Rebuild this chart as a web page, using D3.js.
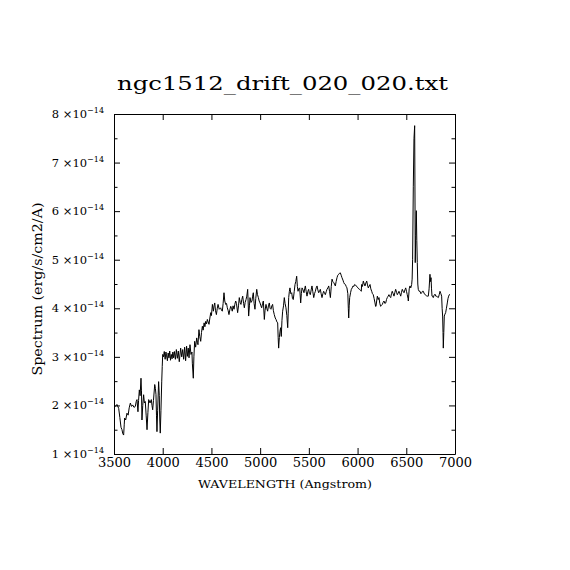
<!DOCTYPE html>
<html>
<head>
<meta charset="utf-8">
<script src="https://cdn.jsdelivr.net/npm/d3@7/dist/d3.min.js"></script>
<style>
  html, body { margin: 0; padding: 0; background: #fff; }
  svg { display: block; }
  text { font-family: "DejaVu Serif", "Liberation Serif", serif; fill: #000; }
</style>
</head>
<body>
<script>
// ---- data (flux in units of 1e-14 erg/s/cm2/A) ----
const titleText = "ngc1512_drift_020_020.txt";
const xLabelText = "WAVELENGTH (Angstrom)";
const yLabelText = "Spectrum (erg/s/cm2/A)";
const xTicks = [3500, 4000, 4500, 5000, 5500, 6000, 6500, 7000];
const yTicks = [1, 2, 3, 4, 5, 6, 7, 8];
const yMinorTicks = [1.5, 2.5, 3.5, 4.5, 5.5, 6.5, 7.5];
const yExponent = "\u221214";

const spectrumPoints = [
[3503,2.00],[3514,1.98],[3530,2.02],[3548,1.94],[3560,1.75],[3572,1.55],[3582,1.50],[3590,1.42],[3599,1.39],[3605,1.60],[3609,1.74],[3620,1.70],[3633,1.84],[3645,1.80],[3656,1.95],[3668,2.05],[3680,1.98],[3692,2.01],[3705,1.96],[3719,1.98],[3728,2.08],[3736,2.12],[3746,1.87],[3752,2.10],[3760,2.32],[3768,2.20],[3777,2.56],[3782,2.30],[3787,1.70],[3795,2.00],[3804,2.22],[3812,2.05],[3821,2.08],[3830,1.80],[3839,1.50],[3848,1.85],[3856,2.12],[3870,2.05],[3883,2.12],[3890,2.00],[3897,1.91],[3905,2.10],[3918,2.43],[3925,2.35],[3931,2.22],[3936,1.80],[3941,1.46],[3948,1.90],[3958,2.49],[3965,2.20],[3970,1.70],[3975,1.43],[3982,1.90],[3990,2.50],[3995,2.80],[4000,3.05],[4008,3.00],[4016,3.11],
[4025,2.95],[4033,3.10],[4040,3.02],[4048,2.92],[4056,3.08],[4064,2.98],[4072,3.12],[4080,2.93],[4088,3.05],[4096,2.96],[4104,3.10],[4112,2.98],[4120,3.11],[4130,2.95],[4140,3.15],[4150,2.97],[4160,3.12],[4170,2.90],[4184,3.18],[4195,3.00],[4205,3.15],[4215,2.95],[4225,3.20],[4235,2.92],[4245,3.22],[4253,3.01],[4262,3.18],[4270,2.98],[4280,3.25],[4290,3.05],[4300,3.10],[4304,2.87],[4314,2.56],[4320,3.00],[4328,3.32],[4338,3.20],[4349,3.39],[4356,3.30],[4362,3.25],[4372,3.56],[4380,3.42],[4390,3.32],[4398,3.50],[4407,3.63],[4415,3.55],[4425,3.70],[4433,3.62],[4441,3.73],[4450,3.68],[4458,3.77],[4466,3.72],[4475,3.67],[4484,3.80],[4493,3.91],[4500,3.85],[4510,4.08],[4520,3.94],[4527,4.05],[4534,4.11],[4542,3.95],[4551,3.87],[4560,4.00],[4568,4.08],[4580,3.98],[4595,4.01],[4603,3.96],[4612,3.94],[4620,4.10],[4629,4.32],[4637,4.15],[4646,4.08],[4655,4.10],[4663,4.01],[4672,3.95],[4680,3.87],[4690,3.98],[4698,4.04],[4706,4.00],[4714,3.94],[4722,4.05],[4732,3.98],[4740,4.08],[4749,4.15],[4757,4.10],
[4769,3.91],[4778,4.05],[4786,4.22],[4795,4.12],[4803,4.08],[4812,4.18],[4821,4.25],[4830,4.10],[4838,4.01],[4846,4.12],[4855,4.18],[4863,4.25],[4872,4.39],[4882,3.84],[4890,4.05],[4896,4.22],[4906,4.12],[4916,4.15],[4923,4.25],[4930,4.32],[4938,4.10],[4947,3.98],[4955,4.20],[4965,4.39],[4973,4.28],[4982,4.22],[4990,4.15],[4999,4.11],[5008,4.05],[5016,4.01],[5025,4.10],[5033,4.15],[5043,3.77],[5050,3.95],[5060,4.08],[5068,4.00],[5077,3.94],[5085,4.05],[5094,4.11],[5102,4.00],[5111,3.98],[5120,4.05],[5128,4.08],[5136,3.95],[5145,3.87],[5155,3.80],[5163,3.77],[5172,3.72],[5180,3.70],[5185,3.40],[5190,3.18],[5197,3.40],[5204,3.53],[5210,3.60],[5217,3.42],[5224,3.75],[5231,3.94],[5240,4.05],[5248,4.22],[5256,4.10],[5265,4.01],[5274,3.85],[5283,3.60],[5288,3.90],[5293,4.22],[5300,4.35],[5306,4.42],[5315,4.30],[5324,4.32],[5332,4.20],[5340,4.18],[5350,4.35],[5358,4.49],[5366,4.55],[5375,4.66],[5382,4.45],[5389,4.35],[5396,4.40],
[5406,4.42],[5416,4.11],[5423,4.30],[5430,4.42],[5440,4.38],[5450,4.32],[5457,4.40],[5464,4.46],[5472,4.35],[5481,4.25],[5490,4.35],[5498,4.39],[5506,4.30],[5515,4.28],[5524,4.38],[5532,4.46],[5540,4.35],[5550,4.22],[5558,4.30],[5567,4.35],[5575,4.42],[5584,4.46],[5592,4.38],[5601,4.32],[5610,4.36],[5618,4.39],[5626,4.30],[5635,4.22],[5644,4.30],[5652,4.35],[5660,4.32],[5669,4.28],[5678,4.34],[5686,4.39],[5695,4.42],[5704,4.46],[5712,4.35],[5721,4.22],[5730,4.45],[5738,4.60],[5746,4.55],[5755,4.53],[5763,4.50],[5772,4.46],[5780,4.55],[5789,4.63],[5797,4.68],[5806,4.70],[5814,4.72],[5823,4.73],[5832,4.68],[5840,4.63],[5850,4.58],[5858,4.53],[5866,4.50],[5875,4.49],[5883,4.45],[5891,4.42],[5900,4.30],[5905,4.00],[5909,3.80],[5914,4.05],[5919,4.22],[5928,4.32],[5936,4.39],[5945,4.42],[5953,4.46],[5962,4.45],[5970,4.49],[5978,4.48],[5987,4.46],[5995,4.44],[6004,4.42],[6012,4.40],[6021,4.39],[6030,4.37],[6038,4.35],
[6042,4.49],[6050,4.45],[6059,4.56],[6068,4.50],[6076,4.46],[6085,4.52],[6094,4.56],[6102,4.48],[6110,4.42],[6120,4.46],[6128,4.49],[6136,4.40],[6145,4.35],[6153,4.30],[6161,4.28],[6170,4.20],[6179,4.11],[6185,4.04],[6189,4.04],[6196,4.15],[6203,4.25],[6212,4.18],[6220,4.22],[6228,4.10],[6237,4.04],[6245,4.06],[6254,4.08],[6262,4.12],[6271,4.15],[6280,4.10],[6289,4.11],[6297,4.18],[6305,4.22],[6314,4.25],[6322,4.28],[6331,4.24],[6340,4.22],[6348,4.30],[6356,4.35],[6365,4.30],[6374,4.25],[6382,4.32],[6391,4.39],[6400,4.33],[6408,4.28],[6416,4.31],[6425,4.35],[6434,4.30],[6443,4.25],[6451,4.33],[6459,4.39],[6468,4.35],[6477,4.32],[6486,4.38],[6494,4.42],[6502,4.35],[6510,4.28],[6518,4.20],
[6521,4.15],[6530,4.40],[6538,4.46],[6546,4.42],[6555,4.49],[6560,4.60],[6565,5.01],[6572,6.50],[6579,7.49],[6586,7.76],[6590,6.00],[6592,4.94],[6597,5.50],[6603,6.01],[6608,5.40],[6613,4.94],[6618,4.50],[6623,4.39],[6632,4.35],[6641,4.35],[6650,4.30],[6658,4.32],[6666,4.35],[6675,4.35],[6684,4.30],[6692,4.29],[6700,4.27],[6709,4.25],[6718,4.25],[6726,4.25],[6734,4.40],[6743,4.70],[6748,4.55],[6754,4.63],[6759,4.40],[6764,4.25],[6770,4.25],[6777,4.22],[6786,4.27],[6795,4.29],[6803,4.25],[6812,4.25],[6820,4.23],[6829,4.22],[6838,4.28],[6846,4.35],[6855,4.30],[6863,4.25],[6868,4.00],[6873,3.84],[6877,3.50],[6880,3.18],[6885,3.50],[6890,3.84],[6897,3.88],[6904,3.91],[6912,4.00],[6921,4.11],[6928,4.20],[6935,4.25],[6942,4.28],[6949,4.29]
];

// ---- layout ----
const W = 570, H = 570;
const plot = { left: 114, right: 455, top: 114, bottom: 454 };

const svg = d3.select("body").append("svg").attr("width", W).attr("height", H);
svg.append("rect").attr("width", W).attr("height", H).attr("fill", "#fff");

const x = d3.scaleLinear().domain([3500, 7000]).range([plot.left, plot.right]);
const y = d3.scaleLinear().domain([1, 8]).range([plot.bottom, plot.top]);

const majorLen = 6, minorLen = 3.5;

function styleAxis(g) {
  g.select(".domain").attr("stroke", "#000").attr("stroke-width", 1);
  g.selectAll(".tick line").attr("stroke", "#000").attr("stroke-width", 1);
}

// bottom axis with labels
const gBottom = svg.append("g").attr("transform", `translate(0,${plot.bottom})`)
  .call(d3.axisBottom(x).tickValues(xTicks).tickSizeInner(-majorLen).tickSizeOuter(0)
        .tickPadding(4).tickFormat(d3.format("d")));
styleAxis(gBottom);
gBottom.selectAll(".tick text").attr("font-family", "DejaVu Serif").attr("font-size", 13).attr("fill", "#000");

// top axis
const gTop = svg.append("g").attr("transform", `translate(0,${plot.top})`)
  .call(d3.axisTop(x).tickValues(xTicks).tickSizeInner(-majorLen).tickSizeOuter(0).tickFormat(""));
styleAxis(gTop);

// left axis (major + minor)
const gLeft = svg.append("g").attr("transform", `translate(${plot.left},0)`)
  .call(d3.axisLeft(y).tickValues(yTicks).tickSizeInner(-majorLen).tickSizeOuter(0).tickFormat(""));
styleAxis(gLeft);
const gLeftMinor = svg.append("g").attr("transform", `translate(${plot.left},0)`)
  .call(d3.axisLeft(y).tickValues(yMinorTicks).tickSizeInner(-minorLen).tickSizeOuter(0).tickFormat(""));
styleAxis(gLeftMinor);
gLeftMinor.select(".domain").remove();

// right axis (major + minor)
const gRight = svg.append("g").attr("transform", `translate(${plot.right},0)`)
  .call(d3.axisRight(y).tickValues(yTicks).tickSizeInner(-majorLen).tickSizeOuter(0).tickFormat(""));
styleAxis(gRight);
const gRightMinor = svg.append("g").attr("transform", `translate(${plot.right},0)`)
  .call(d3.axisRight(y).tickValues(yMinorTicks).tickSizeInner(-minorLen).tickSizeOuter(0).tickFormat(""));
styleAxis(gRightMinor);
gRightMinor.select(".domain").remove();

// y tick labels  "N ×10^-14"
const yLab = svg.append("g");
yTicks.forEach(v => {
  const t = yLab.append("text")
    .attr("x", plot.left - 10)
    .attr("y", y(v) + 4)
    .attr("text-anchor", "end")
    .attr("font-size", 11.5);
  t.append("tspan").text(v + " \u00d710");
  t.append("tspan").attr("font-size", 8).attr("dy", -5).text(yExponent);
});

// spectrum line
const line = d3.line().x(d => x(d[0])).y(d => y(d[1]));
svg.append("path")
  .datum(spectrumPoints)
  .attr("fill", "none")
  .attr("stroke", "#000")
  .attr("stroke-width", 1)
  .attr("stroke-linejoin", "miter")
  .attr("d", line);

// title
svg.append("text")
  .attr("x", 282.5).attr("y", 90)
  .attr("text-anchor", "middle")
  .attr("font-size", 19)
  .attr("textLength", 331).attr("lengthAdjust", "spacingAndGlyphs")
  .text(titleText);

// x label
svg.append("text")
  .attr("x", 285).attr("y", 488)
  .attr("text-anchor", "middle")
  .attr("font-size", 11.5)
  .attr("textLength", 174).attr("lengthAdjust", "spacingAndGlyphs")
  .text(xLabelText);

// y label
svg.append("text")
  .attr("transform", `translate(42,289) rotate(-90)`)
  .attr("text-anchor", "middle")
  .attr("font-size", 12)
  .attr("textLength", 173).attr("lengthAdjust", "spacingAndGlyphs")
  .text(yLabelText);
</script>
</body>
</html>
